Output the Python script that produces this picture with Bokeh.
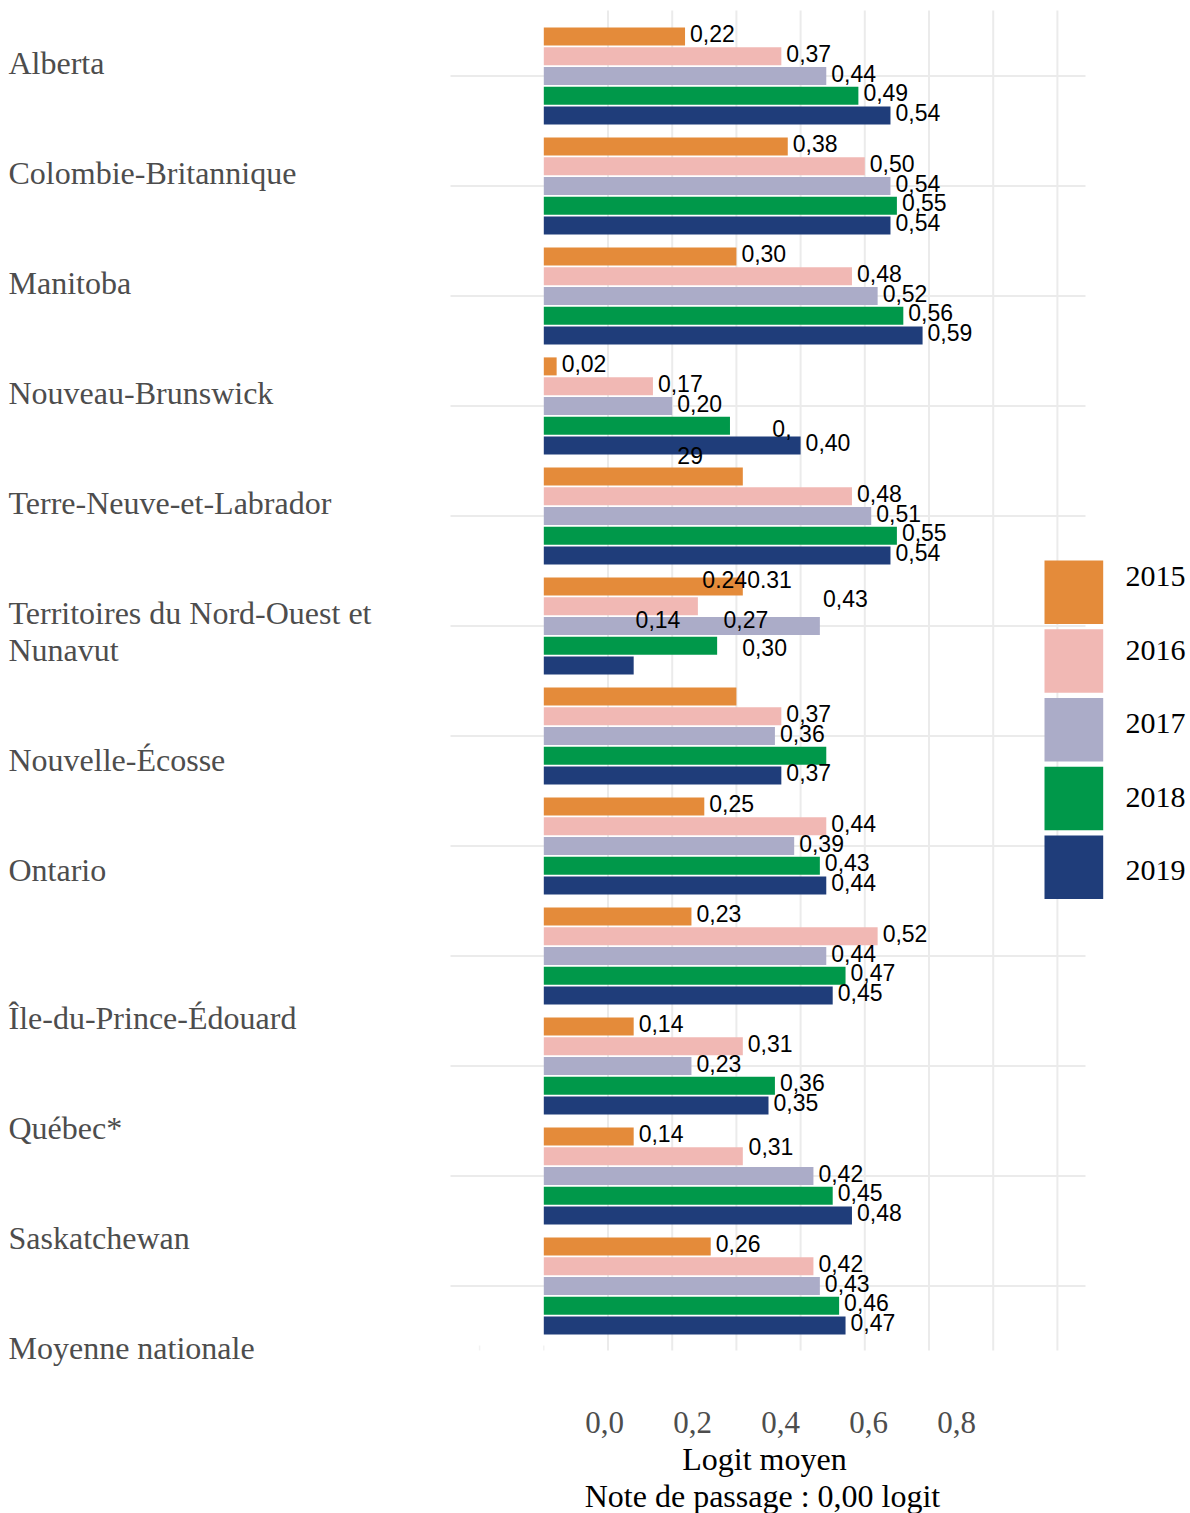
import textwrap
from bokeh.plotting import figure
from bokeh.models import Range1d, Grid
from bokeh.core.properties import value
from bokeh.embed import file_html
from bokeh.resources import INLINE

# ---------------- data ----------------
categories = ["Alberta", "Colombie-Britannique", "Manitoba", "Nouveau-Brunswick",
              "Terre-Neuve-et-Labrador", "Territoires du Nord-Ouest et Nunavut",
              "Nouvelle-Écosse", "Ontario", "Île-du-Prince-Édouard", "Québec*",
              "Saskatchewan", "Moyenne nationale"]
years = ["2015", "2016", "2017", "2018", "2019"]

v2015 = [0.22, 0.38, 0.30, 0.02, 0.31, 0.31, 0.30, 0.25, 0.23, 0.14, 0.14, 0.26]
v2016 = [0.37, 0.50, 0.48, 0.17, 0.48, 0.24, 0.37, 0.44, 0.52, 0.31, 0.31, 0.42]
v2017 = [0.44, 0.54, 0.52, 0.20, 0.51, 0.43, 0.36, 0.39, 0.44, 0.23, 0.42, 0.43]
v2018 = [0.49, 0.55, 0.56, 0.29, 0.55, 0.27, 0.44, 0.43, 0.47, 0.36, 0.45, 0.46]
v2019 = [0.54, 0.54, 0.59, 0.40, 0.54, 0.14, 0.37, 0.44, 0.45, 0.35, 0.48, 0.47]

# bar-end value labels as printed ("" = not printed next to its bar)
lab2015 = ["0,22", "0,38", "0,30", "0,02", "", "", "", "0,25", "0,23", "0,14", "0,14", "0,26"]
lab2016 = ["0,37", "0,50", "0,48", "0,17", "0,48", "", "0,37", "0,44", "0,52", "0,31", "", "0,42"]
lab2017 = ["0,44", "0,54", "0,52", "0,20", "0,51", "", "0,36", "0,39", "0,44", "0,23", "0,42", "0,43"]
lab2018 = ["0,49", "0,55", "0,56", "", "0,55", "", "", "0,43", "0,47", "0,36", "0,45", "0,46"]
lab2019 = ["0,54", "0,54", "0,59", "0,40", "0,54", "", "0,37", "0,44", "0,45", "0,35", "0,48", "0,47"]

# stray labels printed away from their bars (text, value position, group position)
stray_text = ["0,", "29", "0.240.31", "0,43", "0,14", "0,27", "0,30", "0,31"]
stray_x = [0.356, 0.208, 0.247, 0.435, 0.143, 0.280, 0.309, 0.319]
stray_y = [3.277, 3.525, 4.647, 4.823, 5.011, 5.011, 5.268, 9.805]

tick_labels = ["0,0", "0,2", "0,4", "0,6", "0,8"]
x_title = "Logit moyen"
x_note = "Note de passage : 0,00 logit"

colors = ["#E48B3A", "#F1B8B4", "#ABACC8", "#00984A", "#1F3D7A"]

values = [v2015, v2016, v2017, v2018, v2019]
labels = [lab2015, lab2016, lab2017, lab2018, lab2019]

# ---------------- layout ----------------
W, H = 1190, 1513
ORIGIN = 0
ZERO_PX = 543.3
PX_PER_UNIT = 642.0
G0_PX = 75.5
GROUP_PX = 110.0
TXT_SHIFT = -10   # baseline correction for the serif texts (px)


def X(px):
    return (px - ZERO_PX) / PX_PER_UNIT


def Y(py):
    return (py - G0_PX) / GROUP_PX


SERIF = value("Liberation Serif")
SANS = value("Liberation Sans")
GRID = "#EBEBEB"

p = figure(width=W, height=H, title=None,
           x_range=Range1d(X(ORIGIN), X(ORIGIN + W)),
           y_range=Range1d(Y(ORIGIN + H), Y(ORIGIN)),
           output_backend="svg", toolbar_location=None,
           x_axis_location=None, y_axis_location=None,
           min_border=0, outline_line_color=None,
           background_fill_color="white", border_fill_color="white")
p.center = [r for r in p.center if not isinstance(r, Grid)]

n = len(categories)

# grid lines
vx = [k / 10 for k in range(1, 9)]
p.segment(x0=vx, y0=[Y(10)] * len(vx), x1=vx, y1=[Y(1350)] * len(vx),
          line_color=GRID, line_width=2)
p.segment(x0=[-0.1, 0.0], y0=[Y(1345)] * 2, x1=[-0.1, 0.0], y1=[Y(1350)] * 2,
          line_color="#F2F2F2", line_width=1.5)
gy = list(range(n))
p.segment(x0=[X(450)] * n, y0=gy, x1=[X(1085)] * n, y1=gy,
          line_color=GRID, line_width=2)

# bars
PITCH = 19.8 / GROUP_PX
BAR_H = 18.0 / GROUP_PX
bar_y = []
for j, (vals, col) in enumerate(zip(values, colors)):
    ys = [i + (j - 2) * PITCH for i in range(n)]
    bar_y.append(ys)
    p.hbar(y=ys, left=0, right=vals, height=BAR_H, fill_color=col, line_color=None)

# value labels (drawn above all bars)
for vals, labs, ys in zip(values, labels, bar_y):
    tx = [v for v, t in zip(vals, labs) if t]
    ty = [y for y, t in zip(ys, labs) if t]
    tt = [t for t in labs if t]
    p.text(x=tx, y=ty, text=tt, x_offset=5, y_offset=-3,
           text_font=SANS, text_font_size="23px", text_color="black",
           text_align="left", text_baseline="alphabetic")

p.text(x=stray_x, y=stray_y, text=stray_text, y_offset=-8,
       text_font=SANS, text_font_size="23px", text_color="black",
       text_align="left", text_baseline="alphabetic")

# category labels (left column, flowing lines)
LINE = 37.5 / GROUP_PX
cx, cy, ct = [], [], []
shift = 0
for i, cat in enumerate(categories):
    if cat == "Île-du-Prince-Édouard":
        shift += 1
    lines = textwrap.wrap(cat, 28)
    for k, line in enumerate(lines):
        cx.append(X(8))
        cy.append(i - 2.5 / GROUP_PX + (shift + k) * LINE)
        ct.append(line)
    shift += len(lines) - 1
p.text(x=cx, y=cy, text=ct, y_offset=TXT_SHIFT - 1, text_font=SERIF,
       text_font_size="32px", text_color="#4D4D4D", text_align="left",
       text_baseline="alphabetic")

# tick labels (as printed)
tkx = [X(604 + 88 * k) for k in range(len(tick_labels))]
p.text(x=tkx, y=[Y(1431.5)] * len(tkx), text=tick_labels, y_offset=TXT_SHIFT,
       text_font=SERIF, text_font_size="31px", text_color="#4D4D4D",
       text_align="center", text_baseline="alphabetic")

p.text(x=[X(764), X(762)], y=[Y(1469), Y(1506)], text=[x_title, x_note],
       y_offset=TXT_SHIFT - 1, text_font=SERIF, text_font_size="32px",
       text_color="black", text_align="center", text_baseline="alphabetic")

# legend
LB_STEP = 68.75
lb_top = [Y(560 + LB_STEP * j) for j in range(len(years))]
lb_bot = [Y(560 + LB_STEP * j + 63.5) for j in range(len(years))]
p.quad(left=X(1044), right=X(1102.7), top=lb_top, bottom=lb_bot,
       fill_color=colors, line_color=None)
p.text(x=[X(1125)] * len(years), y=[Y(587 + 73.5 * j) for j in range(len(years))],
       text=years, y_offset=TXT_SHIFT - 1, text_font=SERIF, text_font_size="30px",
       text_color="black", text_align="left", text_baseline="alphabetic")

open("out.html", "w").write(file_html(p, INLINE))
